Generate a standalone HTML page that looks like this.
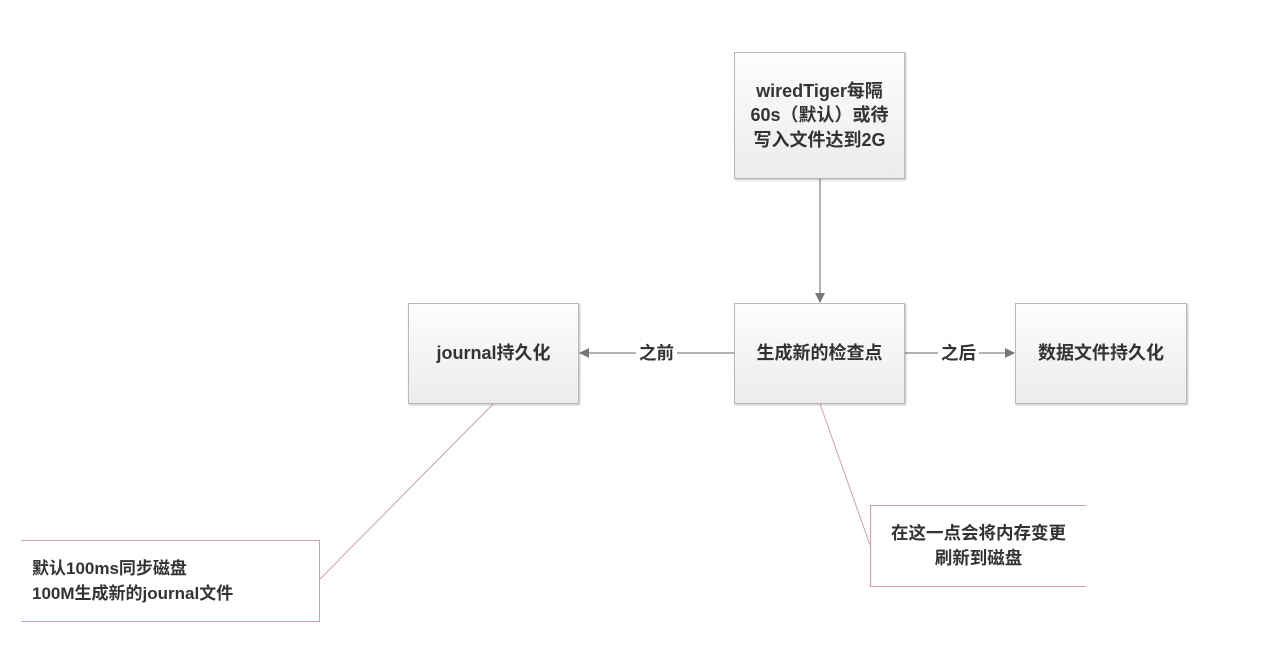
<!DOCTYPE html>
<html><head><meta charset="utf-8"><style>
body{margin:0;width:1280px;height:670px;background:#fff;position:relative;overflow:hidden;font-family:"Liberation Sans","Noto Sans CJK SC",sans-serif;color:#333;}
.b{position:absolute;box-sizing:border-box;border:1px solid #b8b8b8;background:linear-gradient(#fdfdfd,#ececec);box-shadow:1px 1px 2px rgba(0,0,0,.25);display:flex;align-items:center;justify-content:center;text-align:center;font-size:18px;font-weight:bold;line-height:24.5px;}
.n{position:absolute;box-sizing:border-box;border:1px solid #d4a0aa;background:#fff;font-size:17px;font-weight:bold;line-height:25px;display:flex;align-items:center;}
.l{position:absolute;font-size:17.5px;font-weight:bold;background:#fff;padding:0 3px;line-height:20px;}
</style></head><body>
<svg width="1280" height="670" style="position:absolute;left:0;top:0">
<defs><marker id="a" markerWidth="10" markerHeight="10" refX="9" refY="5" orient="auto" markerUnits="userSpaceOnUse"><path d="M0,0 L10,5 L0,10 z" fill="#777"/></marker></defs>
<line x1="820" y1="179" x2="820" y2="302" stroke="#999" stroke-width="1.5" marker-end="url(#a)"/>
<line x1="734" y1="353" x2="580" y2="353" stroke="#999" stroke-width="1.5" marker-end="url(#a)"/>
<line x1="905" y1="353" x2="1014" y2="353" stroke="#999" stroke-width="1.5" marker-end="url(#a)"/>
<line x1="493" y1="404" x2="319" y2="580" stroke="#d4a0aa" stroke-width="1"/>
<line x1="820" y1="404" x2="870" y2="545" stroke="#d4a0aa" stroke-width="1"/>
</svg>
<div class="b" style="left:734px;top:52px;width:171px;height:127px;">wiredTiger每隔<br>60s（默认）或待<br>写入文件达到2G</div>
<div class="b" style="left:408px;top:303px;width:171px;height:101px;">journal持久化</div>
<div class="b" style="left:734px;top:303px;width:171px;height:101px;">生成新的检查点</div>
<div class="b" style="left:1015px;top:303px;width:172px;height:101px;">数据文件持久化</div>
<div class="l" style="left:636px;top:343px;">之前</div>
<div class="l" style="left:938px;top:343px;">之后</div>
<div class="n" style="left:21px;top:540px;width:299px;height:82px;border-left:none;padding-left:11px;">默认100ms同步磁盘<br>100M生成新的journal文件</div>
<div class="n" style="left:870px;top:505px;width:216px;height:82px;border-right:none;justify-content:center;text-align:center;font-size:17.5px;">在这一点会将内存变更<br>刷新到磁盘</div>
</body></html>
